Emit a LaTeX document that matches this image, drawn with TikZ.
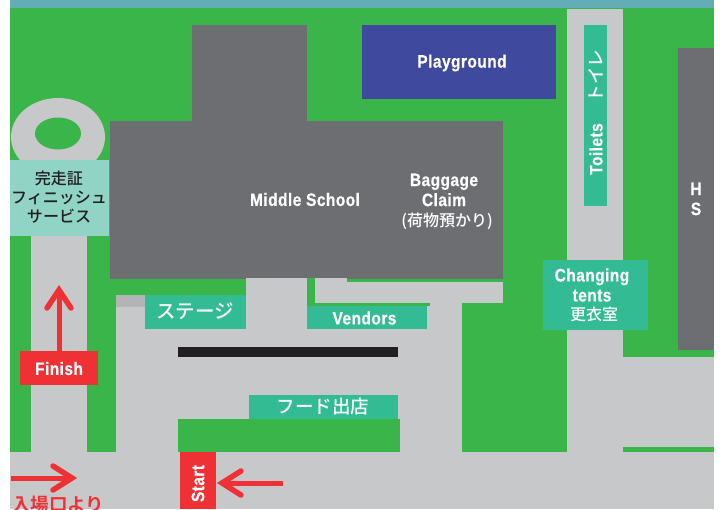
\documentclass[tikz,border=0pt]{standalone}
\usepackage{fontspec}
\setmainfont{Liberation Sans}
\newfontfamily\cond[FakeStretch=0.86,LetterSpace=2.5,BoldFeatures={FakeBold=0.5}]{Liberation Sans}
\newfontfamily\jp{Noto Sans CJK JP Medium}
\newfontfamily\jpb{Noto Sans CJK JP Bold}
\definecolor{grass}{HTML}{3AB54A}
\definecolor{road}{HTML}{C7C8CA}
\definecolor{roaddark}{HTML}{B3B4B8}
\definecolor{bldg}{HTML}{6D6E71}
\definecolor{teal}{HTML}{33BC94}
\definecolor{mint}{HTML}{8FD4C4}
\definecolor{band}{HTML}{62ADB6}
\definecolor{play}{HTML}{3F4A9E}
\definecolor{flag}{HTML}{EF3135}
\definecolor{ink}{HTML}{231F20}
\tikzset{
  area/.style={inner sep=0pt,outer sep=0pt},
  en/.style={text=white,font=\cond\bfseries\fontsize{18}{20}\selectfont,align=center,inner sep=0pt},
  ja/.style={text=white,font=\jp\fontsize{18.5}{20}\selectfont,align=center,inner sep=0pt},
  redline/.style={draw=flag,line width=5.5pt,line cap=round,line join=miter,miter limit=10},
  redstem/.style={draw=flag,line width=5pt}
}
\begin{document}
\begin{tikzpicture}[x=1pt,y=-1pt]
\useasboundingbox (0,0) rectangle (722,509);
\clip (0,0) rectangle (714,509);
% ground
\fill[band] (10,0) rectangle (714,8);
\fill[grass] (10,8) rectangle (714,452);
\fill[road] (10,452) rectangle (714,509);
% roundabout
\fill[road] (58,137) ellipse [x radius=47,y radius=39];
\fill[grass] (58,133.5) ellipse [x radius=23,y radius=16];
% roads
\fill[road] (31,200) rectangle (87,452);
\fill[road] (116,295) rectangle (462,452);
\fill[roaddark] (116,295) rectangle (145,307);
\fill[road] (246,278) rectangle (307,300);
\fill[grass] (307,278) rectangle (315,306);
\fill[grass] (307,295) rectangle (430,306);
\fill[road] (315,278) rectangle (347,303);
\fill[road] (347,282) rectangle (503,303);
\fill[road] (567,9) rectangle (623,452);
\fill[road] (623,357) rectangle (714,447);
% buildings
\fill[bldg] (192,25) rectangle (307,121);
\fill[bldg] (110,121) rectangle (503,279);
\fill[road] (246,278) rectangle (347,282);
\fill[grass] (307,278) rectangle (315,282);
\fill[bldg] (678,48) rectangle (714,350);
% island and bar
\fill[grass] (178,419) rectangle (400,452);
\fill[ink] (178,347) rectangle (398,357);
% labelled areas
\node[area,fill=play,minimum width=194pt,minimum height=74pt] (playground) at (459,62) {};
\node[en] at (462,63) {Playground};
\node[area,fill=teal,minimum width=23pt,minimum height=181pt] (toilets) at (595.5,115.5) {};
\node[en,rotate=90] at (596,149) {Toilets};
\node[ja,rotate=90,font=\jp\fontsize{17.5}{20}\selectfont] at (596,76) {トイレ};
\node[area,fill=mint,minimum width=99pt,minimum height=76pt] (finishsvc) at (59.5,198) {};
\node[inner sep=0pt,align=center,text=ink,font=\jp\fontsize{16}{19}\selectfont] at (59,197.5) {完走証\\フィニッシュ\\サービス};
\node[en] at (305,199.5) {Middle School};
\node[en] at (444,190) {Baggage\\Claim};
\node[ja,font=\jp\fontsize{16}{17}\selectfont] at (447,221.5) {(荷物預かり)};
\node[en] at (696,199) {H\\S};
\node[area,fill=teal,minimum width=105pt,minimum height=70pt] (changing) at (595.5,295) {};
\node[en,align=center] at (592,285) {Changing\\tents};
\node[ja,font=\jp\fontsize{16}{18}\selectfont] at (594,314) {更衣室};
\node[area,fill=teal,minimum width=101pt,minimum height=34pt] (stage) at (195.5,312) {};
\node[ja,font=\jp\fontsize{19.5}{20}\selectfont] at (195,311) {ステージ};
\node[area,fill=teal,minimum width=120pt,minimum height=23pt] (vendors) at (367,317.5) {};
\node[en] at (364.5,318) {Vendors};
\node[area,fill=teal,minimum width=149pt,minimum height=24pt] (food) at (323.5,407) {};
\node[ja] at (323,406) {フード出店};
% red markers
\node[area,fill=flag,minimum width=36pt,minimum height=57pt] (start) at (198,480.5) {};
\node[en,rotate=90] at (198,483.5) {Start};
\node[area,fill=flag,minimum width=78pt,minimum height=34pt] (finish) at (59,368) {};
\node[en] at (59,368.5) {Finish};
\coordinate (fintip) at (59,290);
\draw[redstem] (finish.north) -- (fintip);
\draw[redline] (47,308) -- (fintip) -- (71,308);
\coordinate (instart) at (11,478);
\coordinate (intip) at (72,478);
\draw[redstem] (instart) -- (intip);
\draw[redline] (53,466) -- (intip) -- (53,490);
\coordinate (startfar) at (283,483);
\coordinate (starttip) at (222,483);
\draw[redstem] (startfar) -- (starttip);
\draw[redline] (241,471) -- (starttip) -- (241,495);
\node[anchor=base west,inner sep=0pt,text=flag,font=\jpb\fontsize{18.5}{20}\selectfont] at (12,511) {入場口より};
\end{tikzpicture}
\end{document}
